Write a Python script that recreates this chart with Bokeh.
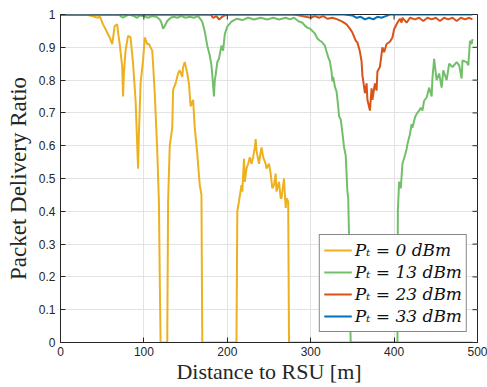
import math
from bokeh.plotting import figure
from bokeh.models import Range1d, FixedTicker, CustomJSTickFormatter, Legend, LegendItem
from bokeh.embed import file_html
from bokeh.resources import INLINE

# ---- data ----
d0 = [0, 30, 38, 45, 47, 51, 56, 59, 62, 65, 68, 69, 71, 74, 75, 76, 78, 81, 84, 87, 90, 93, 94, 96, 99, 101, 104, 106, 110, 111, 113, 116, 118, 119, 120, 128, 129, 131, 134, 135, 138, 141, 143, 146, 147, 149, 152, 154, 156, 159, 161, 164, 166, 167, 169, 170, 211, 212, 214, 217, 218, 220, 221, 223, 225, 227, 229, 231, 233, 234, 235, 238, 240, 241, 243, 246, 247, 250, 252, 254, 256, 258, 259, 262, 264, 265, 268, 270, 271, 273, 274, 494]
v0 = [1, 1, 0.995, 0.99, 0.995, 0.97, 0.945, 0.93, 0.91, 0.965, 0.97, 0.945, 0.91, 0.84, 0.75, 0.82, 0.89, 0.935, 0.93, 0.85, 0.74, 0.53, 0.635, 0.79, 0.86, 0.93, 0.91, 0.91, 0.89, 0.85, 0.76, 0.585, 0.43, 0.2, 0, 0, 0.43, 0.6, 0.655, 0.77, 0.79, 0.82, 0.83, 0.81, 0.84, 0.855, 0.82, 0.79, 0.72, 0.74, 0.655, 0.575, 0.51, 0.48, 0.45, 0, 0, 0.40, 0.43, 0.48, 0.46, 0.56, 0.49, 0.53, 0.545, 0.565, 0.545, 0.565, 0.595, 0.62, 0.585, 0.545, 0.58, 0.595, 0.565, 0.545, 0.53, 0.545, 0.515, 0.47, 0.48, 0.515, 0.46, 0.49, 0.44, 0.44, 0.50, 0.41, 0.44, 0.43, 0, 0]

d13 = [0, 40, 70, 72, 75, 78, 82, 88, 92, 95, 100, 105, 110, 115, 119, 121, 123, 125, 128, 132, 136, 140, 145, 150, 155, 160, 165, 168, 170, 173, 176, 179, 181, 182, 184, 185, 186, 188, 190, 193, 195, 197, 200, 205, 211, 218, 225, 232, 240, 248, 255, 262, 270, 275, 280, 285, 287, 290, 293, 296, 299, 302, 305, 308, 311, 313, 317, 319, 321, 323, 325, 326, 327, 329, 331, 333, 334, 336, 338, 340, 342, 344, 345, 346, 347, 348, 404, 404.5, 406, 408, 410, 413, 415, 416, 419, 421, 422, 425, 427, 430, 432, 434, 436, 439, 442, 445, 446, 448, 451, 454, 457, 459, 463, 466, 470, 475, 478, 481, 482, 487, 489, 491, 493, 494]
v13 = [1, 1, 1, 0.995, 0.99, 0.995, 1, 0.995, 0.99, 0.997, 0.995, 0.99, 0.995, 0.993, 0.985, 0.975, 0.957, 0.965, 0.98, 0.99, 0.993, 0.99, 0.995, 0.99, 0.993, 0.99, 0.995, 0.985, 0.978, 0.948, 0.905, 0.875, 0.845, 0.815, 0.75, 0.80, 0.815, 0.855, 0.865, 0.905, 0.89, 0.94, 0.963, 0.978, 0.987, 0.983, 0.99, 0.985, 0.99, 0.985, 0.99, 0.985, 0.99, 0.985, 0.99, 0.98, 0.978, 0.975, 0.966, 0.96, 0.957, 0.95, 0.942, 0.927, 0.92, 0.917, 0.905, 0.887, 0.87, 0.857, 0.826, 0.796, 0.81, 0.78, 0.765, 0.72, 0.69, 0.68, 0.64, 0.595, 0.57, 0.46, 0.44, 0.32, 0.1, 0, 0, 0.40, 0.49, 0.47, 0.545, 0.57, 0.59, 0.605, 0.635, 0.666, 0.655, 0.686, 0.697, 0.707, 0.716, 0.707, 0.737, 0.747, 0.777, 0.75, 0.807, 0.865, 0.80, 0.82, 0.777, 0.83, 0.80, 0.85, 0.84, 0.855, 0.845, 0.805, 0.86, 0.855, 0.845, 0.92, 0.91, 0.925]

d23 = [0, 180, 183, 187, 190, 195, 200, 280, 290, 300, 305, 310, 315, 320, 326, 332, 338, 343, 347, 350, 354, 356, 359, 361, 362, 365, 367, 368, 371, 373, 374, 377, 379, 380, 383, 386, 388, 391, 395, 398, 400, 404, 407, 409, 410, 415, 419, 425, 430, 435, 440, 445, 450, 455, 460, 465, 470, 475, 480, 485, 490, 494]
v23 = [1, 1, 0.99, 0.995, 0.985, 0.995, 1, 1, 0.995, 0.99, 0.995, 0.99, 0.995, 0.987, 0.99, 0.985, 0.978, 0.97, 0.957, 0.945, 0.92, 0.915, 0.887, 0.857, 0.815, 0.76, 0.79, 0.74, 0.707, 0.775, 0.74, 0.79, 0.768, 0.826, 0.84, 0.90, 0.885, 0.91, 0.917, 0.93, 0.955, 0.975, 0.987, 0.975, 0.99, 0.975, 0.99, 0.985, 0.99, 0.98, 0.99, 0.985, 0.99, 0.98, 0.99, 0.985, 0.99, 0.98, 0.99, 0.985, 0.99, 0.985]

d33 = [0, 340, 350, 355, 360, 365, 370, 375, 380, 385, 390, 395, 494]
v33 = [1, 1, 0.997, 0.99, 0.993, 0.985, 0.99, 0.985, 0.993, 0.99, 0.995, 1, 1]

labels = ["Pₜ = 0 dBm", "Pₜ = 13 dBm", "Pₜ = 23 dBm", "Pₜ = 33 dBm"]
colors = ["#EDB120", "#72BF6A", "#D95319", "#0072BD"]
x_ticks = [0, 100, 200, 300, 400, 500]
y_ticks = [0, 0.1, 0.2, 0.3, 0.4, 0.5, 0.6, 0.7, 0.8, 0.9, 1]

AX = "#262626"

p = figure(width=487, height=387, output_backend="svg", toolbar_location=None,
           x_range=Range1d(0, 500), y_range=Range1d(0, 1),
           min_border_left=60, min_border_right=10, min_border_top=14, min_border_bottom=45)
p.background_fill_color = "white"
p.border_fill_color = "white"
p.outline_line_color = AX
p.outline_line_width = 1

p.xgrid.ticker = FixedTicker(ticks=x_ticks)
p.ygrid.ticker = FixedTicker(ticks=y_ticks)
p.grid.grid_line_color = "#e3e3e3"
p.grid.grid_line_width = 1

renderers = []
for xs, ys, c in zip([d0, d13, d23, d33], [v0, v13, v23, v33], colors):
    r = p.line(xs, ys, line_color=c, line_width=2)
    renderers.append(r)

# inward ticks on the top and right edges of the box
p.ray(x=x_ticks, y=[1] * len(x_ticks), length=5, length_units="screen",
      angle=-math.pi / 2, line_color=AX, line_width=1)
p.ray(x=[500] * len(y_ticks), y=y_ticks, length=5, length_units="screen",
      angle=math.pi, line_color=AX, line_width=1)

fmt = CustomJSTickFormatter(code="return (Math.round(tick*10)/10).toString();")

for ax in [p.xaxis[0], p.yaxis[0]]:
    ax.axis_line_color = AX
    ax.major_tick_line_color = AX
    ax.major_tick_in = 5
    ax.major_tick_out = 0
    ax.minor_tick_line_color = None
    ax.major_label_text_font = "Liberation Sans"
    ax.major_label_text_font_size = "12px"
    ax.major_label_text_color = AX
    ax.axis_label_text_font = "Liberation Serif"
    ax.axis_label_text_font_style = "normal"
    ax.axis_label_text_color = AX

p.xaxis.axis_label_text_font_size = "22px"
p.yaxis.axis_label_text_font_size = "23px"
p.xaxis.ticker = FixedTicker(ticks=x_ticks)
p.yaxis.ticker = FixedTicker(ticks=y_ticks)
p.yaxis.formatter = fmt
p.xaxis.axis_label = "Distance to RSU [m]"
p.yaxis.axis_label = "Packet Delivery Ratio"
p.xaxis.major_label_standoff = 4
p.xaxis.axis_label_standoff = 0
p.yaxis.major_label_standoff = 5
p.yaxis.axis_label_standoff = 5

legend = Legend(items=[LegendItem(label=l, renderers=[r]) for l, r in zip(labels, renderers)],
                location="bottom_right")
legend.label_text_font = "DejaVu Serif"
legend.label_text_font_style = "italic"
legend.label_text_font_size = "17px"
legend.label_text_color = "#111111"
legend.border_line_color = "#111111"
legend.border_line_width = 1
legend.background_fill_alpha = 1
legend.margin = 10
legend.padding = 4
legend.spacing = 0
legend.glyph_width = 28
legend.glyph_height = 22
legend.label_height = 22
legend.label_standoff = 3
p.add_layout(legend)

open("out.html", "w").write(file_html(p, INLINE))
